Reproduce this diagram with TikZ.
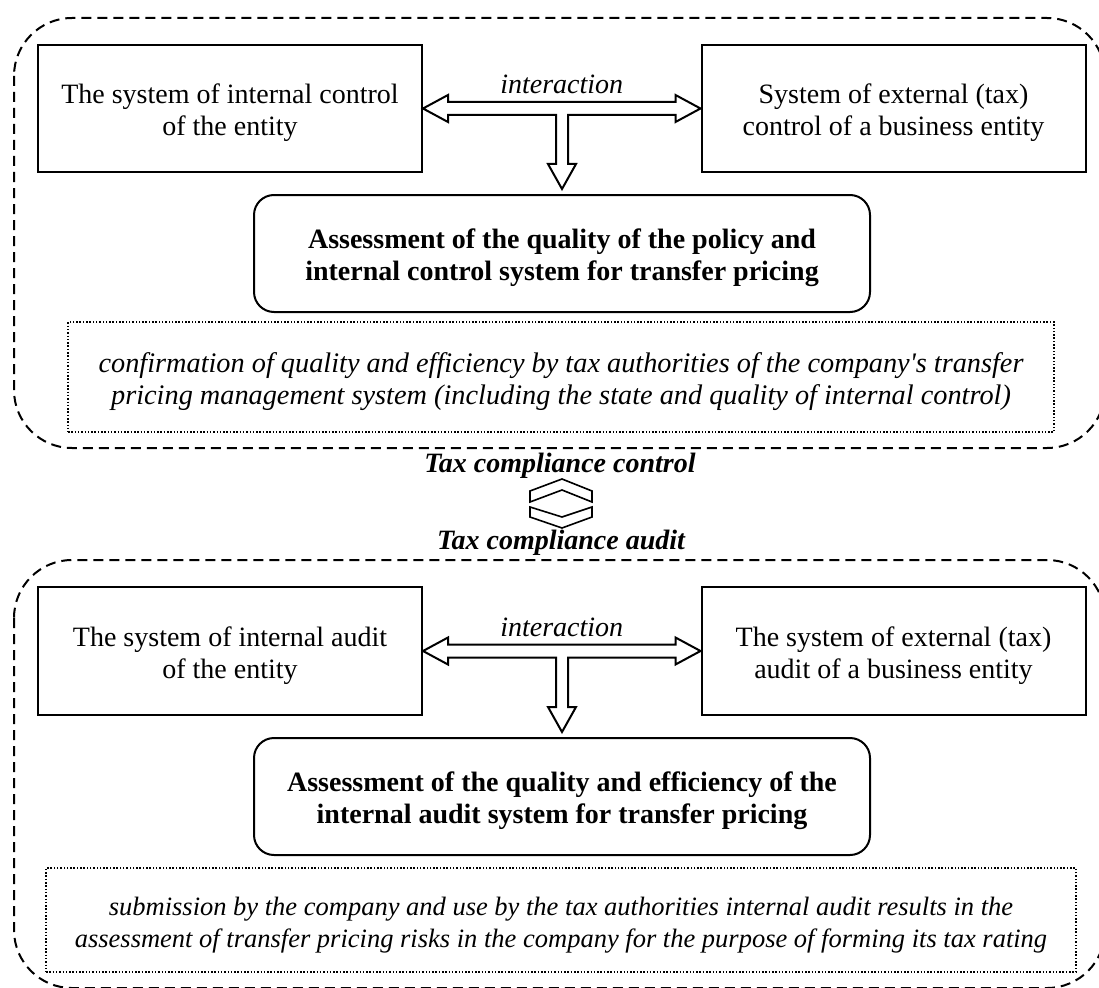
\documentclass[tikz,border=0pt]{standalone}
\usepackage{fontspec}
\setmainfont{Liberation Serif}[Ligatures=TeXOff]
\usetikzlibrary{calc}
\newcommand{\mytwo}[2]{\raisebox{-5pt}[\height][\depth]{\begin{tabular}{@{}c@{}}#1\\#2\end{tabular}}}
\begin{document}
\fontsize{28}{32}\selectfont
\begin{tikzpicture}[x=1pt,y=-1pt,
  box/.style={draw,line width=2pt,minimum width=384pt,minimum height=127pt,inner sep=0pt},
  abox/.style={draw,line width=2pt,rounded corners=20pt,minimum width=616pt,minimum height=117pt,font=\bfseries,inner sep=0pt},
  dbox/.style={draw,line width=1.5pt,dash pattern=on 1.5pt off 1.8pt,inner sep=0pt},
  frame/.style={line width=2pt,dash pattern=on 10pt off 6pt,rounded corners=58pt},
  arrowshape/.style={draw,line width=2pt,fill=white,line join=miter},
  lbl/.style={font=\itshape,inner sep=0pt},
  title/.style={font=\bfseries\itshape,inner sep=0pt},
  chev/.style={draw,line width=1.6pt,fill=white,line join=miter}
]
\useasboundingbox (0,0) rectangle (1099,987);
% frames
\draw[frame] (14,18) rectangle (1105,448);
\draw[frame] (14,560) rectangle (1105,988);

% ---------- top section ----------
\node[box] (tl) at (230,108.5) {\mytwo{The system of internal control}{of the entity}};
\node[box] (tr) at (893.5,108.5) {\mytwo{System of external (tax)}{control of a business entity}};
\node[abox] (as1) at (562,253.5) {\mytwo{Assessment of the quality of the policy and}{internal control system for transfer pricing}};
\node[dbox,minimum width=986pt,minimum height=110pt,font=\fontsize{28.3}{32}\selectfont\itshape] (d1) at (561,377) {\mytwo{confirmation of quality and efficiency by tax authorities of the company's transfer}{pricing management system (including the state and quality of internal control)}};

\coordinate (aL) at (tl.east);
\coordinate (aR) at (tr.west);
\coordinate (aD) at ($(as1.north)+(0,-5)$);
\coordinate (aS) at ($(aL)+(0,6.5)$);
\coordinate (aDr) at ($(aD)+(6,0)$);
\coordinate (aDl) at ($(aD)+(-6,0)$);
\draw[arrowshape] (aL) -- ($(aL)+(25,-13.5)$) -- ($(aL)+(25,-6.5)$) -- ($(aR)+(-25,-6.5)$) -- ($(aR)+(-25,-13.5)$) -- (aR)
  -- ($(aR)+(-25,13.5)$) -- ($(aR)+(-25,6.5)$) -- (aDr |- aS) -- ($(aD)+(6,-25)$) -- ($(aD)+(14,-25)$) -- (aD)
  -- ($(aD)+(-14,-25)$) -- ($(aD)+(-6,-25)$) -- (aDl |- aS) -- ($(aL)+(25,6.5)$) -- ($(aL)+(25,13.5)$) -- cycle;
\node[lbl] (int1) at ($(aL)!0.5!(aR)+(0,-24)$) {interaction};

% ---------- middle ----------
\node[title] (ctl) at (560,466) {Tax compliance control};
\node[title] (aud) at (561,543) {Tax compliance audit};
\draw[chev] (562,479) -- (592,491) -- (592,502) -- (562,490) -- (530,502) -- (530,491) -- cycle;
\draw[chev] (530,507) -- (562,517) -- (592,507) -- (592,517) -- (562,528) -- (530,517) -- cycle;

% ---------- bottom section ----------
\node[box,minimum height=128pt] (bl) at (230,651) {\mytwo{The system of internal audit}{of the entity}};
\node[box,minimum height=128pt] (br) at (893.5,651) {\mytwo{The system of external (tax)}{audit of a business entity}};
\node[abox] (as2) at (562,796.5) {\mytwo{Assessment of the quality and efficiency of the}{internal audit system for transfer pricing}};
\node[dbox,minimum width=1030pt,minimum height=104pt,font=\fontsize{26.5}{32}\selectfont\itshape] (d2) at (561,920) {\mytwo{submission by the company and use by the tax authorities internal audit results in the}{assessment of transfer pricing risks in the company for the purpose of forming its tax rating}};

\coordinate (bL) at (bl.east);
\coordinate (bR) at (br.west);
\coordinate (bD) at ($(as2.north)+(0,-5)$);
\coordinate (bS) at ($(bL)+(0,6.5)$);
\coordinate (bDr) at ($(bD)+(6,0)$);
\coordinate (bDl) at ($(bD)+(-6,0)$);
\draw[arrowshape] (bL) -- ($(bL)+(25,-13.5)$) -- ($(bL)+(25,-6.5)$) -- ($(bR)+(-25,-6.5)$) -- ($(bR)+(-25,-13.5)$) -- (bR)
  -- ($(bR)+(-25,13.5)$) -- ($(bR)+(-25,6.5)$) -- (bDr |- bS) -- ($(bD)+(6,-25)$) -- ($(bD)+(14,-25)$) -- (bD)
  -- ($(bD)+(-14,-25)$) -- ($(bD)+(-6,-25)$) -- (bDl |- bS) -- ($(bL)+(25,6.5)$) -- ($(bL)+(25,13.5)$) -- cycle;
\node[lbl] (int2) at ($(bL)!0.5!(bR)+(0,-24)$) {interaction};
\end{tikzpicture}
\end{document}
